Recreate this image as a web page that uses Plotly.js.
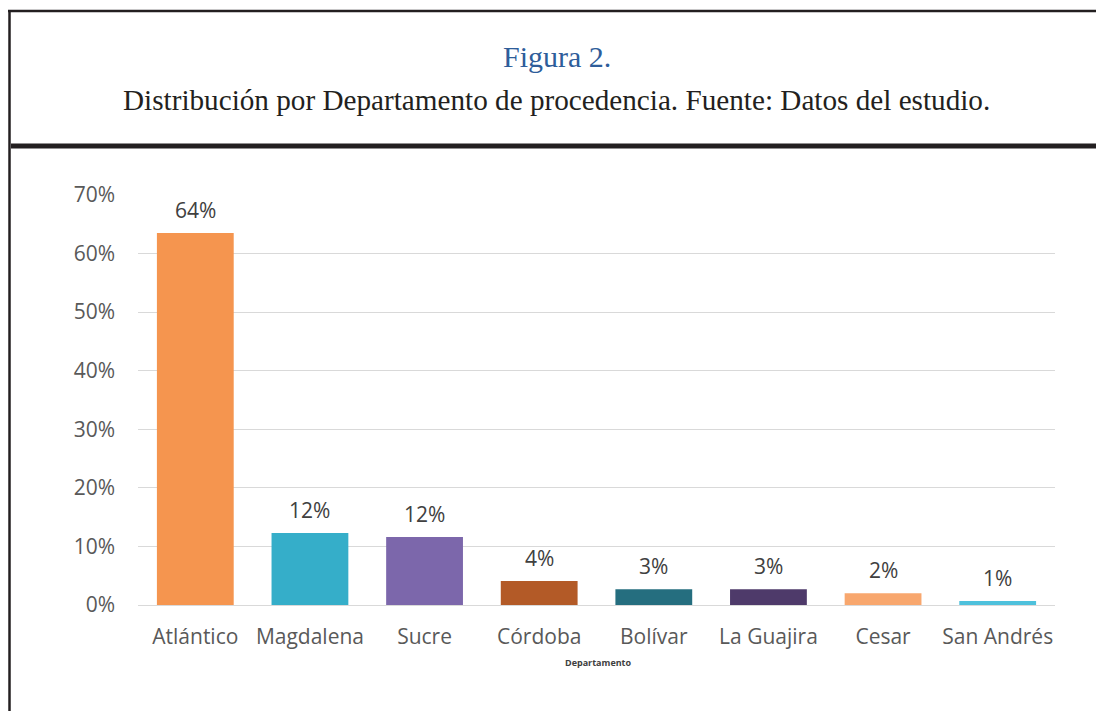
<!DOCTYPE html>
<html><head><meta charset="utf-8">
<script src="https://cdn.plot.ly/plotly-3.0.1.min.js"></script>
<style>html,body{margin:0;padding:0;background:#fff;}#chart{width:1096px;height:711px;}</style>
</head><body><div id="chart"></div>
<script>
const departamentos = ["Atlántico","Magdalena","Sucre","Córdoba","Bolívar","La Guajira","Cesar","San Andrés"];
const porcentajes = [0.635, 0.123, 0.116, 0.041, 0.027, 0.027, 0.020, 0.007];
const etiquetas = ["64%","12%","12%","4%","3%","3%","2%","1%"];
const colores = ["#F5954F","#35AEC9","#7C67AB","#B35A27","#256E7F","#4E3A6A","#F8A76E","#4EC1DC"];

const W = 1096, H = 711, L = 138, R = 1055, T = 195, B = 605;
const px = x => (x - L) / (R - L);
const py = y => (B - y) / (B - T);
const SANS = "'Open Sans', Lato, sans-serif";
const SERIF = "'Liberation Serif', 'Times New Roman', serif";

const trace = {
  type: "bar", x: departamentos, y: porcentajes, cliponaxis: false,
  marker: {color: colores}, width: 0.67, hoverinfo: "x+y"
};

const labelAnns = departamentos.map((d, i) => ({
  x: d, y: porcentajes[i], xref: "x", yref: "y", text: etiquetas[i], showarrow: false,
  xanchor: "center", yanchor: "bottom", yshift: 7,
  font: {family: SANS, size: 21, color: "#404040"}
}));

const layout = {
  width: W, height: H,
  margin: {l: L, r: W - R, t: T, b: H - B, pad: 0},
  paper_bgcolor: "#fff", plot_bgcolor: "#fff",
  showlegend: false,
  font: {family: SANS, color: "#595959"},
  xaxis: {type: "category", tickfont: {size: 21, color: "#595959"}, showgrid: false, zeroline: false,
          showline: false, ticks: "", ticklabelstandoff: 17, fixedrange: true},
  yaxis: {range: [0, 0.7], dtick: 0.1, tickformat: ".0%", tickfont: {size: 21, color: "#595959"},
          gridcolor: "#d9d9d9", gridwidth: 1, zeroline: true, zerolinecolor: "#d9d9d9", zerolinewidth: 1,
          showline: false, ticks: "", ticklabelstandoff: 22, fixedrange: true},
  shapes: [
    {type: "line", xref: "paper", yref: "paper", x0: px(8), x1: px(1096), y0: py(11), y1: py(11), line: {color: "#231f20", width: 2.5}},
    {type: "line", xref: "paper", yref: "paper", x0: px(9.5), x1: px(9.5), y0: py(10), y1: py(711), line: {color: "#231f20", width: 2.5}},
    {type: "line", xref: "paper", yref: "paper", x0: px(11), x1: px(1096), y0: py(146), y1: py(146), line: {color: "#231f20", width: 5}}
  ],
  annotations: labelAnns.concat([
    {xref: "paper", yref: "paper", x: px(557), y: py(57), text: "Figura 2.", showarrow: false,
     xanchor: "center", yanchor: "middle", font: {family: SERIF, size: 30, color: "#2E5D9A"}},
    {xref: "paper", yref: "paper", x: px(556), y: py(100), text: "Distribución por Departamento de procedencia. Fuente: Datos del estudio.", showarrow: false,
     xanchor: "center", yanchor: "middle", font: {family: SERIF, size: 29.2, color: "#231f20"}},
    {xref: "paper", yref: "paper", x: px(598), y: py(662), text: "<b>Departamento</b>", showarrow: false,
     xanchor: "center", yanchor: "middle", font: {family: SANS, size: 9, color: "#404040"}}
  ])
};

Plotly.newPlot("chart", [trace], layout, {staticPlot: true, displayModeBar: false});
</script></body></html>
